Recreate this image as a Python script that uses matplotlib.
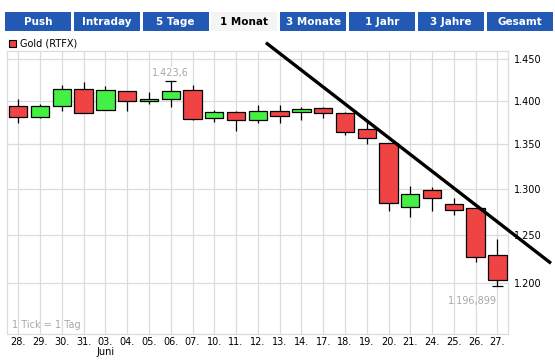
import matplotlib
matplotlib.use("Agg")
import matplotlib.pyplot as plt
from matplotlib.patches import Rectangle
from matplotlib.ticker import FixedLocator, FixedFormatter, NullLocator

# ---- data ----
dates = ['28.', '29.', '30.', '31.', '03.', '04.', '05.', '06.', '07.', '10.', '11.', '12.',
         '13.', '14.', '17.', '18.', '19.', '20.', '21.', '24.', '25.', '26.', '27.']
opens = [1.3936, 1.3814, 1.3936, 1.4137, 1.3889, 1.4113, 1.3995, 1.4018, 1.4132, 1.3795, 1.3865, 1.3779,
         1.3880, 1.3865, 1.3912, 1.3854, 1.3675, 1.3507, 1.2796, 1.2981, 1.2829, 1.2783, 1.2287]
highs = [1.4022, 1.3963, 1.4189, 1.4225, 1.4177, 1.4113, 1.4101, 1.4236, 1.4189, 1.3889, 1.3877, 1.3951,
         1.3951, 1.3927, 1.3924, 1.3865, 1.3752, 1.3507, 1.3029, 1.3014, 1.2894, 1.2783, 1.2457]
lows = [1.3737, 1.3802, 1.3884, 1.3854, 1.3889, 1.3884, 1.3959, 1.3924, 1.3779, 1.3756, 1.3651, 1.3744,
        1.3744, 1.3776, 1.3802, 1.3605, 1.3495, 1.2757, 1.2695, 1.2757, 1.2717, 1.2215, 1.196899]
closes = [1.3814, 1.3936, 1.4137, 1.3854, 1.4125, 1.3995, 1.4018, 1.4113, 1.3791, 1.3865, 1.3779, 1.3877,
          1.3819, 1.3900, 1.3854, 1.3633, 1.3564, 1.2840, 1.2941, 1.2894, 1.2770, 1.2273, 1.2032]
y_ticks = [1.20, 1.25, 1.30, 1.35, 1.40, 1.45]
y_tick_labels = ['1.200', '1.250', '1.300', '1.350', '1.400', '1.450']
trend_x = [11.37, 24.46]
trend_y = [1.4705, 1.2205]
tabs = ['Push', 'Intraday', '5 Tage', '1 Monat', '3 Monate', '1 Jahr', '3 Jahre', 'Gesamt']
active_tab = '1 Monat'
series_name = 'Gold (RTFX)'
month_label = 'Juni'
high_label = '1.423,6'
low_label = '1.196,899'
note = '1 Tick = 1 Tag'

W, H = 555, 362
fig = plt.figure(figsize=(W / 100, H / 100), dpi=100)
fig.patch.set_facecolor('white')

RED = '#F04444'
GREEN = '#44F044'
GRID = '#DCDCDC'
GRAY = '#A8A8A8'
BLUE = '#2159B4'

# main axes
ax_l, ax_r, ax_t, ax_b = 7.3, 508.3, 50.7, 334
ax = fig.add_axes([ax_l / W, 1 - ax_b / H, (ax_r - ax_l) / W, (ax_b - ax_t) / H])
ax.set_yscale('log')
ax.set_xlim(-0.505, 22.5)
ax.set_ylim(1.1497, 1.4606)

xs = list(range(len(dates)))
body_w = 0.84
hi_idx = highs.index(max(highs))
lo_idx = lows.index(min(lows))
for i in xs:
    o, h, l, c = opens[i], highs[i], lows[i], closes[i]
    col = GREEN if c >= o else RED
    ax.vlines(i, l, h, color='black', lw=0.9, zorder=3)
    if i == lo_idx:
        ax.hlines(l, i - 0.25, i + 0.25, color='black', lw=0.9, zorder=3)
    if i == hi_idx:
        ax.hlines(h, i - 0.25, i + 0.25, color='black', lw=0.9, zorder=3)
    bot, top = min(o, c), max(o, c)
    ax.add_patch(Rectangle((i - body_w / 2, bot), body_w, top - bot,
                           facecolor=col, edgecolor='black', lw=0.9, zorder=4))

# grid / ticks
ax.xaxis.set_major_locator(FixedLocator(xs))
ax.xaxis.set_major_formatter(FixedFormatter(dates))
ax.yaxis.set_major_locator(FixedLocator(y_ticks))
ax.yaxis.set_major_formatter(FixedFormatter(y_tick_labels))
ax.yaxis.set_minor_locator(NullLocator())
ax.grid(True, color=GRID, lw=0.9, zorder=0)
ax.set_axisbelow(True)
ax.yaxis.tick_right()
ax.tick_params(axis='both', length=0, labelsize=7, colors='black')
ax.tick_params(axis='y', pad=4)
ax.tick_params(axis='x', pad=2)
for s in ax.spines.values():
    s.set_color(GRID)
    s.set_linewidth(0.9)

# trend line
ax.plot(trend_x, trend_y, color='black', lw=2.4, clip_on=False, zorder=6, solid_capstyle='butt')

# annotations
ax.text(hi_idx, 1.433, high_label, color=GRAY, fontsize=7, ha='center', va='center', zorder=5,
        bbox=dict(facecolor='white', edgecolor='none', pad=1.0))
ax.text(lo_idx, 1.1822, low_label, color=GRAY, fontsize=7, ha='right', va='center', zorder=5)
ax.text(0.009, 0.032, note, color=GRAY, fontsize=7, ha='left', va='center', transform=ax.transAxes)
ax.text(4, -(352 - 334 - 5) / (ax_b - ax_t), month_label, fontsize=7, ha='center', va='top',
        transform=ax.get_xaxis_transform())

# overlay axes for tabs and legend (pixel coords)
ov = fig.add_axes([0, 0, 1, 1], zorder=10)
ov.set_xlim(0, W)
ov.set_ylim(H, 0)
ov.axis('off')
ov.patch.set_alpha(0)
x0, pitch, tw, ty0, ty1 = 5.0, 68.8, 66.0, 12.0, 31.0
for k, name in enumerate(tabs):
    xl = x0 + k * pitch
    act = name == active_tab
    ov.add_patch(Rectangle((xl, ty0), tw, ty1 - ty0,
                           facecolor='#F4F4F4' if act else BLUE, edgecolor='none'))
    ov.text(xl + tw / 2, (ty0 + ty1) / 2 + 0.5, name, color='black' if act else 'white',
            fontsize=7.5, fontweight='bold', ha='center', va='center')

ov.add_patch(Rectangle((8.5, 40), 7, 7, facecolor=RED, edgecolor='black', lw=0.8))
ov.text(20, 43.8, series_name, fontsize=7, ha='left', va='center')

fig.savefig('out.png', dpi=100, facecolor='white')
